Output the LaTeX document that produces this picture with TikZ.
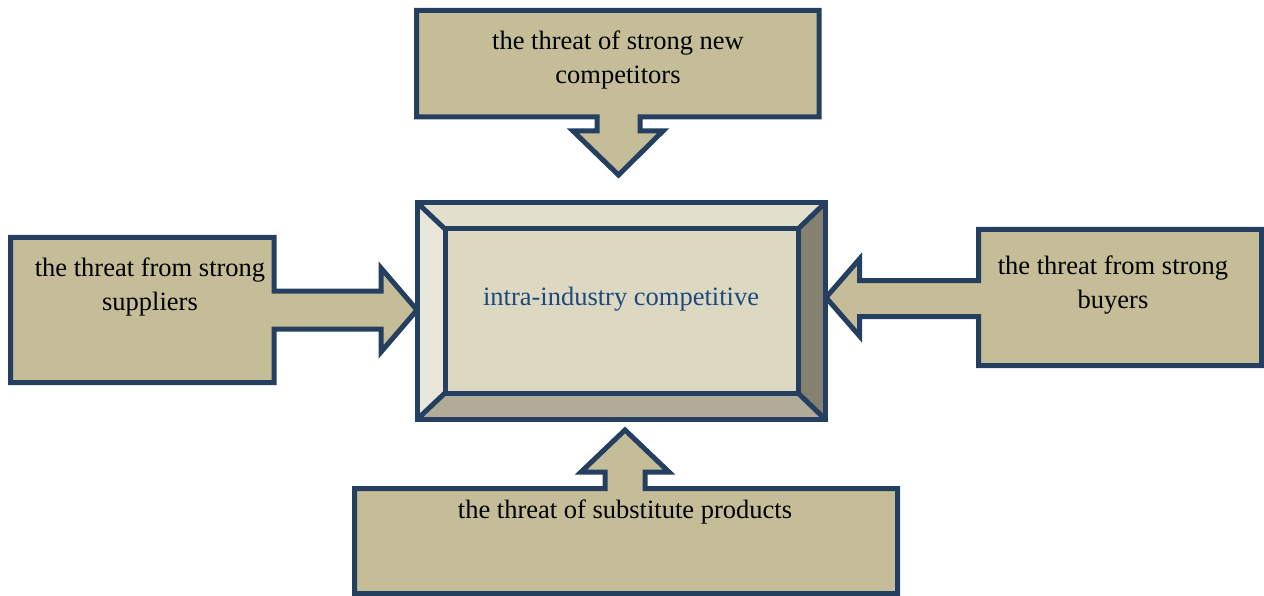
\documentclass[tikz,border=0pt]{standalone}
\usepackage{fontspec}
\setmainfont{Liberation Serif}
\definecolor{tan}{HTML}{C4BD97}
\definecolor{edge}{HTML}{243F60}
\definecolor{ttext}{HTML}{1F497D}
\definecolor{face}{HTML}{DDD8C2}
\definecolor{bevtop}{HTML}{E2DFCC}
\definecolor{bevleft}{HTML}{E9E6DA}
\definecolor{bevright}{HTML}{858170}
\definecolor{bevbot}{HTML}{B0AC98}
\tikzset{
  callout/.style={draw=edge, fill=tan, line width=5pt, line join=miter},
  bevel/.style={draw=edge, line width=5pt, line join=miter},
  lbl/.style={font=\fontsize{26.5}{34}\selectfont, align=center, text=black, inner sep=0pt},
}
\begin{document}
\begin{tikzpicture}[x=1pt,y=-1pt]
\useasboundingbox (0,0) rectangle (1264,596);
% top callout
\draw[callout] (416.5,10.5) -- (819,10.5) -- (819,117) -- (640,117) -- (640,131) -- (663,131)
  -- (618.5,175) -- (573,131) -- (597,131) -- (597,117) -- (416.5,117) -- cycle;
% left callout
\draw[callout] (10.5,237.5) -- (274,237.5) -- (274,291) -- (381,291) -- (381,268) -- (417,310)
  -- (381,352) -- (381,329) -- (274,329) -- (274,382.5) -- (10.5,382.5) -- cycle;
% right callout
\draw[callout] (1261.5,229.5) -- (978.5,229.5) -- (978.5,280.5) -- (859.5,280.5) -- (859.5,259)
  -- (826,297.5) -- (859.5,336) -- (859.5,316.5) -- (978.5,316.5) -- (978.5,365.5) -- (1261.5,365.5) -- cycle;
% bottom callout
\draw[callout] (354.5,593.5) -- (897.5,593.5) -- (897.5,488.5) -- (645,488.5) -- (645,472)
  -- (669,472) -- (625,430) -- (581,472) -- (605,472) -- (605,488.5) -- (354.5,488.5) -- cycle;
% center bevel box
\fill[bevtop] (417.5,203) -- (825,203) -- (798,229) -- (445,229) -- cycle;
\fill[bevleft] (417.5,203) -- (445,229) -- (445,393) -- (417.5,419) -- cycle;
\fill[bevright] (825,203) -- (825,419) -- (798,393) -- (798,229) -- cycle;
\fill[bevbot] (417.5,419) -- (445,393) -- (798,393) -- (825,419) -- cycle;
\fill[face] (445,229) rectangle (798,393);
\draw[bevel] (417.5,203) rectangle (825,419);
\draw[bevel] (445,229) rectangle (798,393);
\draw[bevel] (417.5,203) -- (445,229);
\draw[bevel] (825,203) -- (798,229);
\draw[bevel] (417.5,419) -- (445,393);
\draw[bevel] (825,419) -- (798,393);
% labels
\node[lbl] (new) at (618,60) {the threat of strong new\\competitors};
\node[lbl] (sup) at (150,287) {the threat from strong\\suppliers};
\node[lbl] (buy) at (1113,285.5) {the threat from strong\\buyers};
\node[lbl] (sub) at (625,512) {the threat of substitute products};
\node[lbl, text=ttext] (core) at (621,299) {intra-industry competitive};
\end{tikzpicture}
\end{document}
